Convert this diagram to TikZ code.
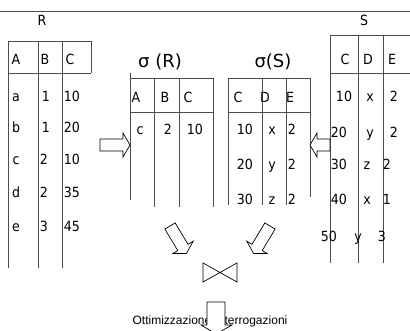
\documentclass[tikz,border=0pt]{standalone}
\usepackage{fontspec}
\usepackage{tikz}
\newfontfamily\tabfont[FakeStretch=0.9]{DejaVu Sans}
\newfontfamily\titlefont{DejaVu Sans}
\newfontfamily\notefont{Liberation Sans}

\tikzset{
  rule/.style={line width=0.9pt, black!70},
  arrowline/.style={line width=0.7pt, fill=white},
  cell/.style={font={\tabfont\fontsize{14}{16}\selectfont}, inner sep=0pt, text height=10pt, text depth=0pt},
  title/.style={font={\titlefont\fontsize{18}{20}\selectfont}, inner sep=0pt},
  note/.style={font={\notefont\fontsize{12}{14}\selectfont}, inner sep=0pt}
}
% block arrow: tail point, angle, length
\newcommand{\blockarrow}[3]{%
  \draw[arrowline, shift={#1}, rotate=#2] (0,-6) -- (#3-7,-6) -- (#3-7,-12) -- (#3,0)
    -- (#3-7,12) -- (#3-7,6) -- (0,6) -- cycle;}

\begin{document}
\begin{tikzpicture}[x=1pt,y=-1pt]
\useasboundingbox (0,0) rectangle (410,331);
\clip (0,0) rectangle (410,331);
\draw[rule] (0,11) -- (410,11);

% relation R
\node[cell] (Rname) at (42,21) {R};
\draw[rule] (8,268) -- (8,41) -- (91,41) -- (91,73);
\draw[rule] (8,73) -- (91,73);
\draw[rule] (38,41) -- (38,268);
\draw[rule] (62,41) -- (62,268);
\node[cell] (RA) at (16,60) {A};
\node[cell] (RB) at (45,60) {B};
\node[cell] (RC) at (70,60) {C};
\foreach \a/\b/\bx/\c/\y [count=\i] in {a/1/46/10/97, b/1/46/20/128, c/2/44/10/160, d/2/44/35/193, e/3/44/45/227}{
  \node[cell] (Ra\i) at (16,\y) {\a};
  \node[cell] (Rb\i) at (\bx,\y) {\b};
  \node[cell] (Rc\i) at (72,\y) {\c};
}

% selection on R
\node[title] (selR) at (160,62) {σ (R)};
\draw[rule] (130,73) -- (130,200);
\draw[rule] (130,78) -- (213,78);
\draw[rule] (130,112) -- (213,112);
\draw[rule] (154,78) -- (154,207);
\draw[rule] (179,78) -- (179,207);
\draw[rule] (213,78) -- (213,207);
\node[cell] (sRA) at (136,98) {A};
\node[cell] (sRB) at (165,98) {B};
\node[cell] (sRC) at (188,98) {C};
\node[cell] (sRa) at (140,130) {c};
\node[cell] (sRb) at (168,130) {2};
\node[cell] (sRc) at (195,130) {10};

% selection on S
\node[title] (selS) at (273,62) {σ(S)};
\begin{scope}
\clip (220,70) rectangle (320,205);
\draw[rule] (228,78) -- (228,205);
\draw[rule] (228,78) -- (310,78) -- (310,197);
\draw[rule] (228,112) -- (310,112);
\draw[rule] (262,78) -- (262,205);
\draw[rule] (286,78) -- (286,205);
\node[cell] (sSC) at (238,98) {C};
\node[cell] (sSD) at (265,98) {D};
\node[cell] (sSE) at (290,98) {E};
\foreach \c/\d/\y [count=\i] in {10/x/130, 20/y/165, 30/z/200}{
  \node[cell] (sSc\i) at (245,\y) {\c};
  \node[cell] (sSd\i) at (272,\y) {\d};
  \node[cell] (sSe\i) at (292,\y) {2};
}
\end{scope}

% relation S
\node[cell] (Sname) at (364,21) {S};
\draw[rule] (330,263) -- (330,35) -- (410,35);
\draw[rule] (330,73) -- (410,73);
\draw[rule] (358,35) -- (358,263);
\draw[rule] (383,35) -- (383,263);
\node[cell] (SC) at (345,60) {C};
\node[cell] (SD) at (368,60) {D};
\node[cell] (SE) at (392,60) {E};
\foreach \c/\cx/\d/\dx/\e/\ex/\y [count=\i] in {10/344/x/370/2/394/97, 20/339/y/370/2/394/133,
    30/339/z/367/2/387/165, 40/339/x/367/1/387/200, 50/329/y/358/3/382/237}{
  \node[cell] (Sc\i) at (\cx,\y) {\c};
  \node[cell] (Sd\i) at (\dx,\y) {\d};
  \node[cell] (Se\i) at (\ex,\y) {\e};
}

% arrows and join
\blockarrow{(100,145)}{0}{30}
\blockarrow{(330,145)}{180}{20}
\blockarrow{(170,226)}{-59}{32}
\blockarrow{(270,226)}{-121}{32}
\draw[line width=0.7pt] (203,263) -- (237,282) -- (237,263) -- (203,282) -- cycle;

\node[note] (opt) at (210,321) {Ottimizzazione Interrogazioni};
\draw[arrowline] (207,302) -- (225,302) -- (225,325) -- (232,325) -- (216,334)
  -- (201,325) -- (207,325) -- cycle;
\end{tikzpicture}
\end{document}
